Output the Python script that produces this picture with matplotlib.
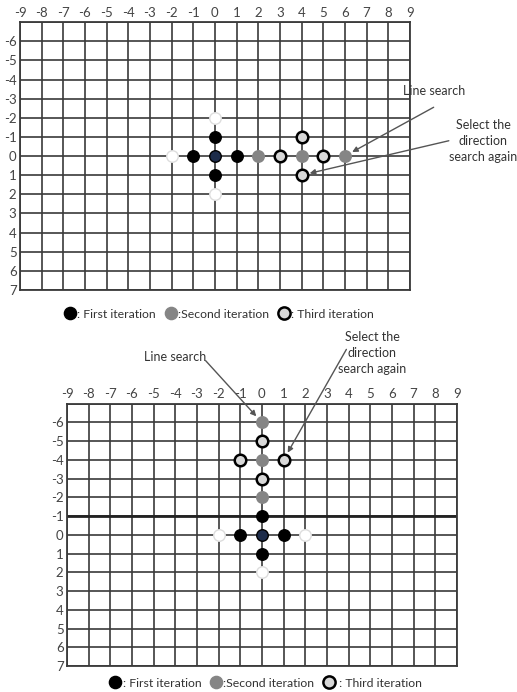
import numpy as np
import matplotlib
matplotlib.use('Agg')
import matplotlib.pyplot as plt
from matplotlib.lines import Line2D

plt.rcParams['font.family'] = ['Lato', 'DejaVu Sans']

# grid ticks
x_ticks = list(range(-9, 10))
y_ticks = list(range(-7, 8))
y_labels = [''] + [str(v) for v in range(-6, 8)]

# top panel points (x, y) -- y grows downward
top_center = [(0, 0)]
top_first = [(-1, 0), (1, 0), (0, -1), (0, 1)]
top_white = [(-2, 0), (0, -2), (0, 2)]
top_second = [(2, 0), (4, 0), (6, 0)]
top_third = [(3, 0), (5, 0), (4, -1), (4, 1)]

# bottom panel points
bot_center = [(0, 0)]
bot_first = [(-1, 0), (1, 0), (0, -1), (0, 1)]
bot_white = [(-2, 0), (2, 0), (0, 2)]
bot_second = [(0, -2), (0, -4), (0, -6)]
bot_third = [(0, -3), (0, -5), (-1, -4), (1, -4)]

styles = {
    'first': dict(mfc='black', mec='black', mew=1),
    'second': dict(mfc='#858585', mec='#858585', mew=1),
    'third': dict(mfc='#d8d8d8', mec='black', mew=1.8),
    'white': dict(mfc='white', mec='#dddddd', mew=1),
    'center': dict(mfc='#1d2c4a', mec='black', mew=1),
}
MS = 8.3


def draw_grid(ax, heavy_row=None):
    ax.set_xlim(-9, 9)
    ax.set_ylim(7, -7)
    ax.set_xticks(x_ticks)
    ax.set_xticklabels([str(v) for v in x_ticks])
    ax.set_yticks(y_ticks)
    ax.set_yticklabels(y_labels)
    ax.xaxis.tick_top()
    ax.tick_params(length=0, labelsize=9.5, labelcolor='#444444', pad=2.5)
    ax.grid(True, color='#3a3a3a', linewidth=1.2)
    ax.set_axisbelow(True)
    for s in ax.spines.values():
        s.set_color('#3a3a3a')
        s.set_linewidth(1.3)
    if heavy_row is not None:
        ax.axhline(heavy_row, color='#222222', linewidth=2, zorder=1)


def draw_points(ax, pts, kind):
    xs = [p[0] for p in pts]
    ys = [p[1] for p in pts]
    ax.plot(xs, ys, 'o', ms=MS, ls='none', zorder=3, clip_on=False, **styles[kind])


def add_legend(ax, labels, y_off):
    handles = [Line2D([], [], marker='o', ls='none', ms=MS + 0.5, **styles[k])
               for k in ('first', 'second', 'third')]
    ax.legend(handles, labels, loc='center', bbox_to_anchor=(0.51, y_off), ncol=3,
              frameon=False, fontsize=8.8, handletextpad=0.1, columnspacing=0.7,
              handlelength=1.0, labelcolor='#333333')


fig = plt.figure(figsize=(5.17, 6.92), dpi=100)
ax1 = fig.add_axes([0.0387, 0.581, 0.754, 0.387])
ax2 = fig.add_axes([0.1296, 0.0376, 0.754, 0.379])

# top panel
draw_grid(ax1)
draw_points(ax1, top_white, 'white')
draw_points(ax1, top_first, 'first')
draw_points(ax1, top_center, 'center')
draw_points(ax1, top_second, 'second')
draw_points(ax1, top_third, 'third')
add_legend(ax1, [': First iteration', ':Second iteration', ': Third iteration'], -0.09)

arrow = dict(arrowstyle='-|>', color='#555555', lw=1, mutation_scale=8, shrinkA=0, shrinkB=6)
ax1.text(10.1, -3.4, 'Line search', ha='center', va='center', fontsize=9, color='#333333')
ax1.annotate('', xy=top_second[-1], xytext=(10.1, -2.55), arrowprops=arrow, annotation_clip=False)
ax1.text(12.4, -0.8, 'Select the\ndirection\nsearch again', ha='center', va='center',
         fontsize=9, color='#333333', linespacing=1.4)
ax1.annotate('', xy=top_third[-1], xytext=(10.8, -0.8), arrowprops=arrow, annotation_clip=False)

# bottom panel
draw_grid(ax2, heavy_row=-1)
draw_points(ax2, bot_white, 'white')
draw_points(ax2, bot_first, 'first')
draw_points(ax2, bot_center, 'center')
draw_points(ax2, bot_second, 'second')
draw_points(ax2, bot_third, 'third')
add_legend(ax2, [': First iteration', ':Second iteration', ' : Third iteration'], -0.065)

ax2.text(-4.0, -9.5, 'Line search', ha='center', va='center', fontsize=9, color='#333333')
ax2.annotate('', xy=bot_second[-1], xytext=(-2.6, -9.3), arrowprops=arrow, annotation_clip=False)
ax2.text(5.1, -9.7, 'Select the\ndirection\nsearch again', ha='center', va='center',
         fontsize=9, color='#333333', linespacing=1.4)
ax2.annotate('', xy=bot_third[-1], xytext=(3.9, -9.9), arrowprops=arrow, annotation_clip=False)

fig.savefig('out.png', dpi=100)
